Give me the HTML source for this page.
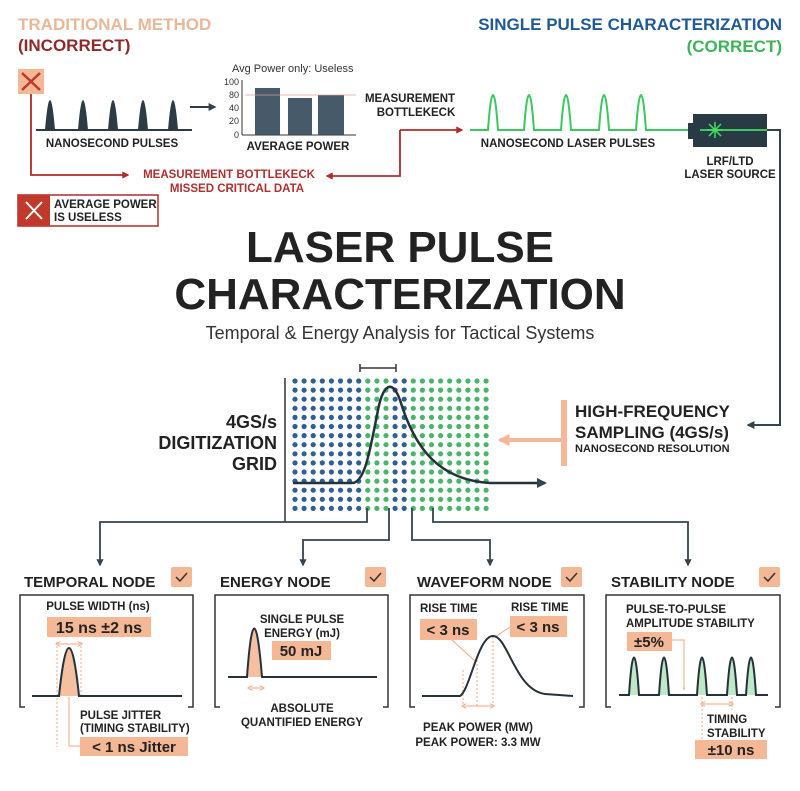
<!DOCTYPE html>
<html><head><meta charset="utf-8"><style>
html,body{margin:0;padding:0;background:#fff;}
svg{display:block;font-family:"Liberation Sans",sans-serif;}
.b{font-weight:bold;}
</style></head><body>
<svg width="800" height="791" viewBox="0 0 800 791" xmlns="http://www.w3.org/2000/svg">
<defs>
<marker id="ad" viewBox="0 0 10 10" refX="8" refY="5" markerWidth="4" markerHeight="4" orient="auto"><path d="M0,0L10,5L0,10z" fill="#34444f"/></marker>
<marker id="ar" viewBox="0 0 10 10" refX="8" refY="5" markerWidth="4" markerHeight="4" orient="auto"><path d="M0,0L10,5L0,10z" fill="#b42a2a"/></marker>
<marker id="ao" viewBox="0 0 10 10" refX="8" refY="5" markerWidth="3" markerHeight="3" orient="auto"><path d="M0,0L10,5L0,10z" fill="#f4b896"/></marker>
<marker id="as" viewBox="0 0 10 10" refX="5" refY="5" markerWidth="5" markerHeight="5" orient="auto-start-reverse"><path d="M0,0L10,5L0,10" fill="none" stroke="#f0a880" stroke-width="2"/></marker>
</defs>

<text x="18" y="30" class="b" font-size="17" fill="#e8b898">TRADITIONAL METHOD</text>
<text x="18" y="51" class="b" font-size="17" fill="#8e2a2a">(INCORRECT)</text>
<rect x="18" y="69" width="26" height="25" fill="#f4b896"/>
<path d="M22,73L40,90M40,73L22,90" stroke="#c0392b" stroke-width="2.5"/>
<line x1="36" y1="130" x2="192" y2="130" stroke="#2d3b45" stroke-width="2"/>
<g fill="#2d3b45">
<path d="M45,130Q50,70 55,130z"/><path d="M78,130Q83,70 88,130z"/><path d="M108,130Q113,70 118,130z"/><path d="M138,130Q143,70 148,130z"/><path d="M168,130Q173,70 178,130z"/>
</g>
<text x="112" y="147" class="b" font-size="11.5" text-anchor="middle" fill="#222">NANOSECOND PULSES</text>
<line x1="190" y1="107" x2="215" y2="107" stroke="#2d3b45" stroke-width="2" marker-end="url(#ad)"/>
<text x="232" y="72" font-size="11" fill="#333">Avg Power only: Useless</text>
<g font-size="9" fill="#333" text-anchor="end"><text x="239" y="85">100</text><text x="239" y="98">80</text><text x="239" y="111">40</text><text x="239" y="124">20</text><text x="239" y="138">0</text></g>
<line x1="242" y1="80" x2="242" y2="135" stroke="#333"/><line x1="242" y1="135" x2="356" y2="135" stroke="#333"/>
<g fill="#34495a" opacity="0.9"><rect x="255" y="88" width="25" height="47"/><rect x="288" y="98" width="24" height="37"/><rect x="318" y="95" width="26" height="40"/></g>
<line x1="245" y1="95" x2="356" y2="95" stroke="#e89a9a" stroke-width="1" opacity="0.7"/>
<text x="298" y="150" class="b" font-size="11.5" text-anchor="middle" fill="#222">AVERAGE POWER</text>
<text x="410" y="102" class="b" font-size="11.5" text-anchor="middle" fill="#222">MEASUREMENT</text>
<text x="416" y="116" class="b" font-size="11.5" text-anchor="middle" fill="#222">BOTTLEKECK</text>
<path d="M31,94V175H128" fill="none" stroke="#b42a2a" stroke-width="1.8" marker-end="url(#ar)"/>
<path d="M400,130V176H327" fill="none" stroke="#b42a2a" stroke-width="1.8" marker-end="url(#ar)"/>
<path d="M400,130H462" fill="none" stroke="#b42a2a" stroke-width="1.8" marker-end="url(#ar)"/>
<text x="229" y="178" class="b" font-size="11.5" text-anchor="middle" fill="#b03030">MEASUREMENT BOTTLEKECK</text>
<text x="237" y="192" class="b" font-size="11.5" text-anchor="middle" fill="#b03030">MISSED CRITICAL DATA</text>
<rect x="18" y="195" width="140" height="31" fill="#fff" stroke="#b42a2a" stroke-width="1.5"/>
<rect x="18" y="195" width="32" height="31" fill="#c0392b"/>
<path d="M26,202L42,219M42,202L26,219" stroke="#fff" stroke-width="2"/>
<text x="54" y="208" class="b" font-size="11.5" fill="#222">AVERAGE POWER</text>
<text x="54" y="221" class="b" font-size="11.5" fill="#222">IS USELESS</text>

<text x="782" y="30" class="b" font-size="17" text-anchor="end" fill="#1f5a96">SINGLE PULSE CHARACTERIZATION</text>
<text x="782" y="52" class="b" font-size="17" text-anchor="end" fill="#3cb55a">(CORRECT)</text>
<path d="M470,130H488Q493,60 498,130H524Q529,60 534,130H561Q566,60 571,130H599Q604,60 609,130H636Q641,60 646,130H693" fill="none" stroke="#3cc860" stroke-width="2"/>
<text x="568" y="147" class="b" font-size="11.5" text-anchor="middle" fill="#222">NANOSECOND LASER PULSES</text>
<rect x="688" y="123" width="6" height="16" fill="#2a3a44"/>
<rect x="693" y="114" width="74" height="33" fill="#2a3a44"/>
<line x1="700" y1="130" x2="767" y2="130" stroke="#3cc860" stroke-width="2"/>
<g stroke="#3ee060" stroke-width="1.5"><path d="M707,130H723M715,122V138M709,124L721,136M721,124L709,136"/></g>
<text x="730" y="165" class="b" font-size="11.5" text-anchor="middle" fill="#222">LRF/LTD</text>
<text x="730" y="178" class="b" font-size="11.5" text-anchor="middle" fill="#222">LASER SOURCE</text>
<path d="M767,130H780V425H748" fill="none" stroke="#34444f" stroke-width="2" marker-end="url(#ad)"/>

<text x="400" y="262" class="b" font-size="44" text-anchor="middle" fill="#222">LASER PULSE</text>
<text x="400" y="309" class="b" font-size="44" text-anchor="middle" fill="#222">CHARACTERIZATION</text>
<text x="400" y="339" font-size="18" text-anchor="middle" fill="#333">Temporal &amp; Energy Analysis for Tactical Systems</text>

<text x="277" y="428" class="b" font-size="18" text-anchor="end" fill="#222">4GS/s</text>
<text x="277" y="449" class="b" font-size="18" text-anchor="end" fill="#222">DIGITIZATION</text>
<text x="277" y="470" class="b" font-size="18" text-anchor="end" fill="#222">GRID</text>
<line x1="285" y1="378" x2="285" y2="522" stroke="#333" stroke-width="1.5"/>
<g id="dots"></g>
<path d="M360,368H396M360,364V372M396,364V372" stroke="#333" stroke-width="1.5" fill="none"/>
<path d="M293,483H352C365,483 370,450 378,410C383,385 392,378 400,400C415,450 440,480 490,483H545" fill="none" stroke="#26323a" stroke-width="2.5" marker-end="url(#ad)"/>
<line x1="563" y1="440" x2="500" y2="440" stroke="#f4b896" stroke-width="4" marker-end="url(#ao)"/>
<rect x="561" y="400" width="6" height="66" fill="#f4b896"/>
<text x="575" y="417" class="b" font-size="17" fill="#222">HIGH-FREQUENCY</text>
<text x="575" y="438" class="b" font-size="17" fill="#222">SAMPLING (4GS/s)</text>
<text x="575" y="452" class="b" font-size="11" fill="#222">NANOSECOND RESOLUTION</text>

<g fill="none" stroke="#34444f" stroke-width="1.8">
<path d="M367,508V522H100V565" marker-end="url(#ad)"/>
<path d="M389,508V540H303V565" marker-end="url(#ad)"/>
<path d="M412,508V540H490V565" marker-end="url(#ad)"/>
<path d="M433,508V522H688V565" marker-end="url(#ad)"/>
</g>

<g class="b" font-size="15" fill="#222">
<text x="24" y="587">TEMPORAL NODE</text><text x="220" y="587">ENERGY NODE</text><text x="417" y="587">WAVEFORM NODE</text><text x="611" y="587">STABILITY NODE</text>
</g>
<g fill="#f4b896"><rect x="171" y="567" width="21" height="20" rx="2"/><rect x="365" y="567" width="21" height="20" rx="2"/><rect x="561" y="567" width="21" height="20" rx="2"/><rect x="759" y="567" width="21" height="20" rx="2"/></g>
<g stroke="#333" stroke-width="1.5" fill="none">
<path d="M176,577l4,4l7,-8"/><path d="M370,577l4,4l7,-8"/><path d="M566,577l4,4l7,-8"/><path d="M764,577l4,4l7,-8"/>
</g>
<g fill="none" stroke="#333" stroke-width="1.5">
<path d="M25,707H20V595H193V707H188"/>
<path d="M220,707H215V595H388V707H383"/>
<path d="M415,707H410V595H584V707H579"/>
<path d="M611,707H606V595H780V707H775"/>
</g>

<text x="98" y="610" class="b" font-size="11.5" text-anchor="middle" fill="#222">PULSE WIDTH (ns)</text>
<rect x="47" y="617" width="104" height="20" fill="#f4b896"/>
<text x="99" y="633" class="b" font-size="16" text-anchor="middle" fill="#222">15 ns ±2 ns</text>
<g stroke="#f0a880" stroke-dasharray="2,2"><line x1="57" y1="642" x2="57" y2="747"/><line x1="81" y1="642" x2="81" y2="697"/></g>
<line x1="58" y1="644" x2="80" y2="644" stroke="#f0a880" marker-start="url(#as)" marker-end="url(#as)"/>
<path d="M59,696Q69,600 79,696z" fill="#f4c0a0"/>
<path d="M32,696H59Q69,600 79,696H182" fill="none" stroke="#26323a" stroke-width="2"/>
<path d="M69,697V746H80" fill="none" stroke="#f0a880"/>
<text x="80" y="719" class="b" font-size="11.5" fill="#222">PULSE JITTER</text>
<text x="80" y="732" class="b" font-size="11.5" fill="#222">(TIMING STABILITY)</text>
<rect x="80" y="737" width="108" height="19" fill="#f4b896"/>
<text x="134" y="752" class="b" font-size="15" text-anchor="middle" fill="#222">&lt; 1 ns Jitter</text>

<path d="M247,677Q254,580 262,677z" fill="#f4c0a0"/>
<path d="M228,677H247Q254,580 262,677H377" fill="none" stroke="#26323a" stroke-width="2"/>
<line x1="250" y1="688" x2="262" y2="688" stroke="#f0a880" marker-start="url(#as)" marker-end="url(#as)"/>
<text x="302" y="623" class="b" font-size="11.5" text-anchor="middle" fill="#222">SINGLE PULSE</text>
<text x="302" y="637" class="b" font-size="11.5" text-anchor="middle" fill="#222">ENERGY (mJ)</text>
<rect x="272" y="641" width="59" height="19" fill="#f4b896"/>
<text x="301" y="656" class="b" font-size="15" text-anchor="middle" fill="#222">50 mJ</text>
<text x="302" y="712" class="b" font-size="11.5" text-anchor="middle" fill="#222">ABSOLUTE</text>
<text x="302" y="726" class="b" font-size="11.5" text-anchor="middle" fill="#222">QUANTIFIED ENERGY</text>

<text x="420" y="612" class="b" font-size="11.5" fill="#222">RISE TIME</text>
<rect x="420" y="619" width="57" height="21" fill="#f4b896"/>
<text x="448" y="635" class="b" font-size="15" text-anchor="middle" fill="#222">&lt; 3 ns</text>
<text x="511" y="611" class="b" font-size="11.5" fill="#222">RISE TIME</text>
<rect x="510" y="616" width="57" height="21" fill="#f4b896"/>
<text x="538" y="632" class="b" font-size="15" text-anchor="middle" fill="#222">&lt; 3 ns</text>
<g stroke="#f0a880"><line x1="452" y1="640" x2="475" y2="661"/><line x1="510" y1="627" x2="495" y2="637"/></g>
<g stroke="#f0a880" stroke-dasharray="2,2"><line x1="463" y1="670" x2="463" y2="707"/><line x1="477" y1="660" x2="477" y2="707"/><line x1="493" y1="637" x2="493" y2="707"/></g>
<line x1="464" y1="706" x2="492" y2="706" stroke="#f0a880" marker-start="url(#as)" marker-end="url(#as)"/>
<path d="M422,696H460C470,690 478,636 493,636C508,636 515,690 545,694L573,696" fill="none" stroke="#26323a" stroke-width="2"/>
<text x="478" y="731" class="b" font-size="11.5" text-anchor="middle" fill="#222">PEAK POWER (MW)</text>
<text x="478" y="746" class="b" font-size="11.5" text-anchor="middle" fill="#222">PEAK POWER: 3.3 MW</text>

<text x="626" y="613" class="b" font-size="11.5" fill="#222">PULSE-TO-PULSE</text>
<text x="626" y="627" class="b" font-size="11.5" fill="#222">AMPLITUDE STABILITY</text>
<rect x="627" y="632" width="45" height="19" fill="#f4b896"/>
<text x="649" y="647" class="b" font-size="15" text-anchor="middle" fill="#222">±5%</text>
<path d="M672,640H684V690" fill="none" stroke="#f0a880" marker-end="url(#ao)"/>
<g fill="#bfe8c8"><path d="M629,695Q634,620 639,695z"/><path d="M659,695Q664,620 669,695z"/><path d="M697,695Q702,620 707,695z"/><path d="M727,695Q732,620 737,695z"/><path d="M746,695Q751,620 756,695z"/></g>
<path d="M619,695H629Q634,620 639,695H659Q664,620 669,695H697Q702,620 707,695H727Q732,620 737,695H746Q751,620 756,695H768" fill="none" stroke="#26323a" stroke-width="2"/>
<g stroke="#f0a880" stroke-dasharray="2,2"><line x1="702" y1="697" x2="702" y2="740"/><line x1="732" y1="697" x2="732" y2="710"/></g>
<line x1="703" y1="704" x2="731" y2="704" stroke="#f0a880" marker-start="url(#as)" marker-end="url(#as)"/>
<text x="707" y="723" class="b" font-size="11.5" fill="#222">TIMING</text>
<text x="707" y="737" class="b" font-size="11.5" fill="#222">STABILITY</text>
<rect x="695" y="740" width="72" height="19" fill="#f4b896"/>
<text x="731" y="755" class="b" font-size="15" text-anchor="middle" fill="#222">±10 ns</text>

<g>
<script type="text/javascript"><![CDATA[
(function(){var g=document.getElementById('dots');var ns='http://www.w3.org/2000/svg';
for(var c=0;c<22;c++){for(var r=0;r<15;r++){var e=document.createElementNS(ns,'circle');
e.setAttribute('cx',295+c*9.1);e.setAttribute('cy',381+r*9.1);e.setAttribute('r',2.6);
var blue=(c<8)||(c>=11&&c<13);e.setAttribute('fill',blue?'#2e5f96':'#49b56a');g.appendChild(e);}}})();
]]></script>
</g>
</svg>
</body></html>
